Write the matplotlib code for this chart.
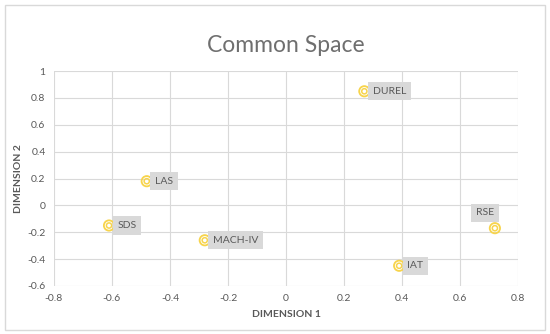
import matplotlib
matplotlib.use('Agg')
import matplotlib.pyplot as plt
from matplotlib.patches import Rectangle

plt.rcParams['font.family'] = ['Lato', 'DejaVu Sans']

# MDS common space coordinates
labels = ['DUREL', 'LAS', 'SDS', 'MACH-IV', 'RSE', 'IAT']
dim1 = [0.27, -0.48, -0.61, -0.28, 0.72, 0.39]
dim2 = [0.85, 0.18, -0.15, -0.26, -0.17, -0.45]
# label offsets in points (RSE sits above-left)
offsets = [(6, 0), (6, 0), (6, 0), (6, 0), (-7, 11), (6, 0)]

xticks = [-0.8, -0.6, -0.4, -0.2, 0, 0.2, 0.4, 0.6, 0.8]
yticks = [-0.6, -0.4, -0.2, 0, 0.2, 0.4, 0.6, 0.8, 1]

grid_col = '#d9d9d9'
text_col = '#595959'
mark_col = '#f7d44c'

fig = plt.figure(figsize=(5.5, 3.34), dpi=100)
fig.patches.append(Rectangle((0.009, 0.012), 0.982, 0.973, transform=fig.transFigure,
                             fill=False, edgecolor=grid_col, linewidth=1))
ax = fig.add_axes([0.098, 0.144, 0.844, 0.643])

ax.scatter(dim1, dim2, s=55, facecolors='none', edgecolors=mark_col, linewidths=1.3, zorder=3)
ax.scatter(dim1, dim2, s=14, facecolors='none', edgecolors=mark_col, linewidths=1.1, zorder=3)

for lab, x, y, off in zip(labels, dim1, dim2, offsets):
    ha = 'left' if off[0] > 0 else 'center'
    ax.annotate(lab, (x, y), xytext=off, textcoords='offset points', ha=ha, va='center',
                fontsize=7.5, color=text_col, zorder=4,
                bbox=dict(boxstyle='square,pad=0.45', facecolor='#d9d9d9', edgecolor='none'))

ax.set_xlim(-0.8, 0.8)
ax.set_ylim(-0.6, 1)
ax.set_xticks(xticks)
ax.set_yticks(yticks)
ax.set_xticklabels([f'{t:g}' for t in xticks])
ax.set_yticklabels([f'{t:g}' for t in yticks])
ax.grid(True, color=grid_col, linewidth=0.8)
ax.set_axisbelow(True)
for s in ax.spines.values():
    s.set_visible(False)
ax.tick_params(length=0, labelsize=7.5, colors=text_col, pad=6)

ax.set_xlabel('DIMENSION 1', fontsize=7.5, fontweight='bold', color=text_col, labelpad=5)
ax.set_ylabel('DIMENSION 2', fontsize=7.5, fontweight='bold', color=text_col, labelpad=3)
fig.text(0.52, 0.865, 'Common Space', ha='center', va='center', fontsize=16.5,
         color='#6f6f6f', fontweight='normal')

fig.savefig('out.png', dpi=100)
